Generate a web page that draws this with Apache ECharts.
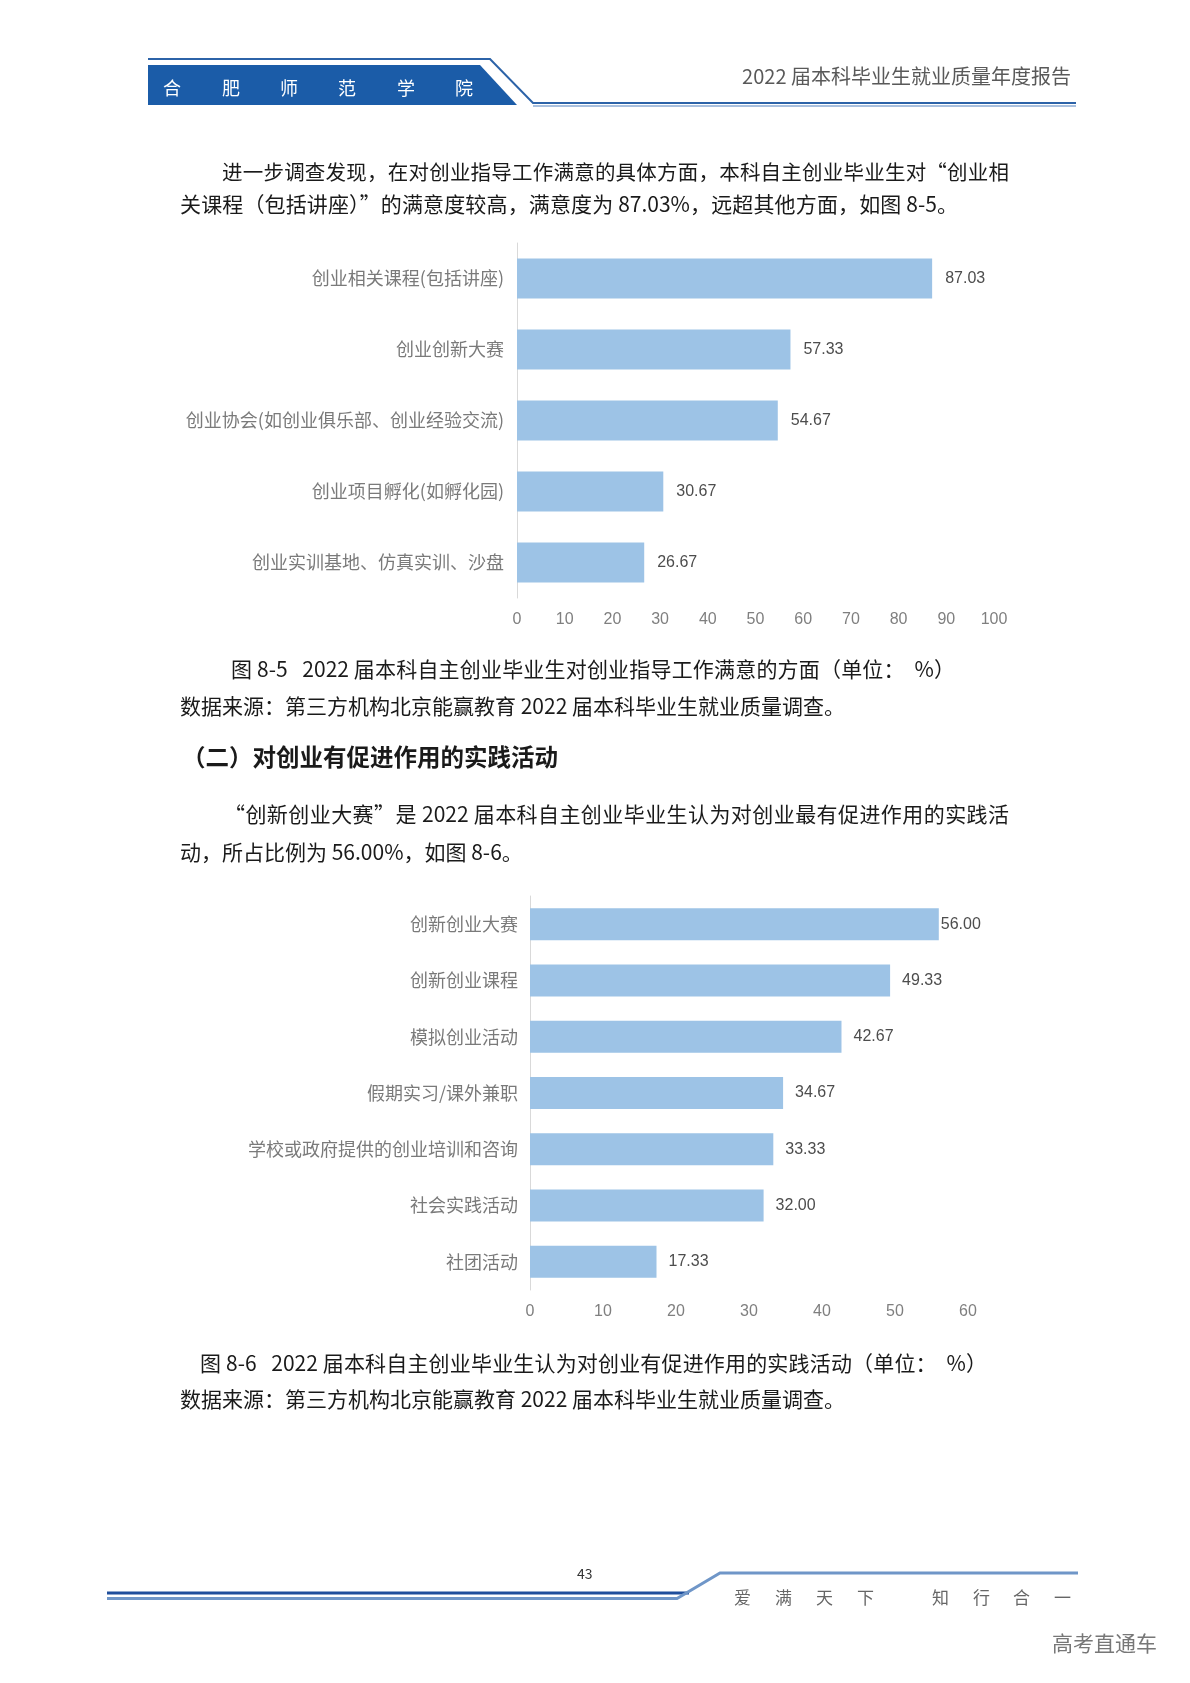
<!DOCTYPE html>
<html><head><meta charset="utf-8">
<script src="https://cdn.jsdelivr.net/npm/echarts@6/dist/echarts.min.js"></script>
<style>
html,body{margin:0;padding:0;background:#fff;}
#page{position:relative;width:1190px;height:1683px;overflow:hidden;background:#fff;}
#chart{position:absolute;left:0;top:0;width:1190px;height:1683px;}
.t{position:absolute;white-space:pre;font-family:"Noto Sans CJK SC","Noto Sans",sans-serif;color:#1a1a1a;font-size:21px;line-height:30px;height:30px;z-index:2;}
.j{text-align:justify;text-align-last:justify;}
</style></head>
<body>
<div id="page">
<div id="chart"></div>
<!-- header -->
<div class="t" style="left:163px;top:72px;color:#fff;font-size:18px;">合</div>
<div class="t" style="left:222px;top:72px;color:#fff;font-size:18px;">肥</div>
<div class="t" style="left:280px;top:72px;color:#fff;font-size:18px;">师</div>
<div class="t" style="left:338px;top:72px;color:#fff;font-size:18px;">范</div>
<div class="t" style="left:397px;top:72px;color:#fff;font-size:18px;">学</div>
<div class="t" style="left:455px;top:72px;color:#fff;font-size:18px;">院</div>
<div class="t" style="right:119px;top:61px;color:#595959;font-size:20px;">2022 届本科毕业生就业质量年度报告</div>
<!-- paragraph 1 -->
<div class="t j" style="left:222px;top:156px;width:787px;font-size:20.5px;">进一步调查发现，在对创业指导工作满意的具体方面，本科自主创业毕业生对“创业相</div>
<div class="t j" style="left:180px;top:188px;width:778px;">关课程（包括讲座）”的满意度较高，满意度为 87.03%，远超其他方面，如图 8-5。</div>
<!-- caption 1 -->
<div class="t j" style="left:231px;top:653px;width:724px;">图 8-5   2022 届本科自主创业毕业生对创业指导工作满意的方面（单位：  %）</div>
<div class="t" style="left:180px;top:690px;">数据来源：第三方机构北京能赢教育 2022 届本科毕业生就业质量调查。</div>
<!-- heading -->
<div class="t" style="left:182px;top:741px;font-size:23.5px;font-weight:bold;">（二）对创业有促进作用的实践活动</div>
<!-- paragraph 2 -->
<div class="t j" style="left:224px;top:798px;width:785px;">“创新创业大赛”是 2022 届本科自主创业毕业生认为对创业最有促进作用的实践活</div>
<div class="t" style="left:180px;top:836px;">动，所占比例为 56.00%，如图 8-6。</div>
<!-- caption 2 -->
<div class="t j" style="left:200px;top:1347px;width:787px;">图 8-6   2022 届本科自主创业毕业生认为对创业有促进作用的实践活动（单位：  %）</div>
<div class="t" style="left:180px;top:1383px;">数据来源：第三方机构北京能赢教育 2022 届本科毕业生就业质量调查。</div>
<!-- footer -->
<div class="t" style="left:577px;top:1558px;font-size:14px;color:#333;">43</div>
<div class="t" style="left:734px;top:1582px;font-size:17px;color:#666;">爱</div>
<div class="t" style="left:775px;top:1582px;font-size:17px;color:#666;">满</div>
<div class="t" style="left:816px;top:1582px;font-size:17px;color:#666;">天</div>
<div class="t" style="left:857px;top:1582px;font-size:17px;color:#666;">下</div>
<div class="t" style="left:932px;top:1582px;font-size:17px;color:#666;">知</div>
<div class="t" style="left:973px;top:1582px;font-size:17px;color:#666;">行</div>
<div class="t" style="left:1013px;top:1582px;font-size:17px;color:#666;">合</div>
<div class="t" style="left:1054px;top:1582px;font-size:17px;color:#666;">一</div>
<div class="t" style="left:1052px;top:1627px;font-size:21px;color:#777;">高考直通车</div>
</div>
<script>
// Figure 8-5 data
const categories1 = ['创业相关课程(包括讲座)', '创业创新大赛', '创业协会(如创业俱乐部、创业经验交流)', '创业项目孵化(如孵化园)', '创业实训基地、仿真实训、沙盘'];
const values1 = [87.03, 57.33, 54.67, 30.67, 26.67];
const axisMax1 = 100;
// Figure 8-6 data
const categories2 = ['创新创业大赛', '创新创业课程', '模拟创业活动', '假期实习/课外兼职', '学校或政府提供的创业培训和咨询', '社会实践活动', '社团活动'];
const values2 = [56.00, 49.33, 42.67, 34.67, 33.33, 32.00, 17.33];
const axisMax2 = 60;
const tickStep = 10;

const barColor = '#9dc3e6';
const catLabel = {color: '#7a7a7a', fontSize: 18, fontFamily: '"Noto Sans CJK SC", sans-serif'};
const tickLabel = {color: '#7f7f7f', fontSize: 16, fontFamily: '"Liberation Sans", "Noto Sans", sans-serif', margin: 14};
const valLabel = {show: true, position: 'right', color: '#4d4d4d', fontSize: 16, fontFamily: '"Liberation Sans", "Noto Sans", sans-serif',
  formatter: p => Number(p.value).toFixed(2)};

const chart = echarts.init(document.getElementById('chart'), null, {renderer: 'canvas'});
chart.setOption({
  animation: false,
  backgroundColor: '#fff',
  grid: [
    {left: 517, top: 243, width: 477, height: 355, containLabel: false},
    {left: 530, top: 896, width: 438, height: 394, containLabel: false}
  ],
  xAxis: [
    {gridIndex: 0, type: 'value', min: 0, max: axisMax1, interval: tickStep,
     axisLine: {show: false}, axisTick: {show: false}, splitLine: {show: false}, axisLabel: tickLabel},
    {gridIndex: 1, type: 'value', min: 0, max: axisMax2, interval: tickStep,
     axisLine: {show: false}, axisTick: {show: false}, splitLine: {show: false}, axisLabel: tickLabel}
  ],
  yAxis: [
    {gridIndex: 0, type: 'category', data: categories1, inverse: true,
     axisLine: {show: true, lineStyle: {color: '#d9d9d9', width: 1}}, axisTick: {show: false},
     axisLabel: Object.assign({margin: 13}, catLabel)},
    {gridIndex: 1, type: 'category', data: categories2, inverse: true,
     axisLine: {show: true, lineStyle: {color: '#d9d9d9', width: 1}}, axisTick: {show: false},
     axisLabel: Object.assign({margin: 12}, catLabel)}
  ],
  series: [
    {type: 'bar', xAxisIndex: 0, yAxisIndex: 0, data: values1, barWidth: 40,
     itemStyle: {color: barColor}, label: Object.assign({distance: 13}, valLabel)},
    {type: 'bar', xAxisIndex: 1, yAxisIndex: 1, barWidth: 32,
     data: values2.map((v, i) => i === 0 ? {value: v, label: {distance: 2}} : v),
     itemStyle: {color: barColor}, label: Object.assign({distance: 12}, valLabel)}
  ],
  graphic: [
    {type: 'polygon', silent: true, shape: {points: [[148, 65], [480, 65], [517, 105], [148, 105]]}, style: {fill: '#1b5ca8'}},
    {type: 'polyline', silent: true, shape: {points: [[148, 59], [490, 59], [533, 103], [1076, 103]]}, style: {stroke: '#2c63a8', lineWidth: 2, fill: null}},
    {type: 'polyline', silent: true, shape: {points: [[533, 106], [1076, 106]]}, style: {stroke: '#a9c0de', lineWidth: 2, fill: null}},
    {type: 'polyline', silent: true, shape: {points: [[107, 1593], [689, 1593]]}, style: {stroke: '#1f4e9c', lineWidth: 3, fill: null}},
    {type: 'polyline', silent: true, shape: {points: [[107, 1598.5], [677, 1598.5], [720, 1573], [1078, 1573]]}, style: {stroke: '#6f96c8', lineWidth: 3, fill: null}}
  ]
});
</script>
</body></html>
